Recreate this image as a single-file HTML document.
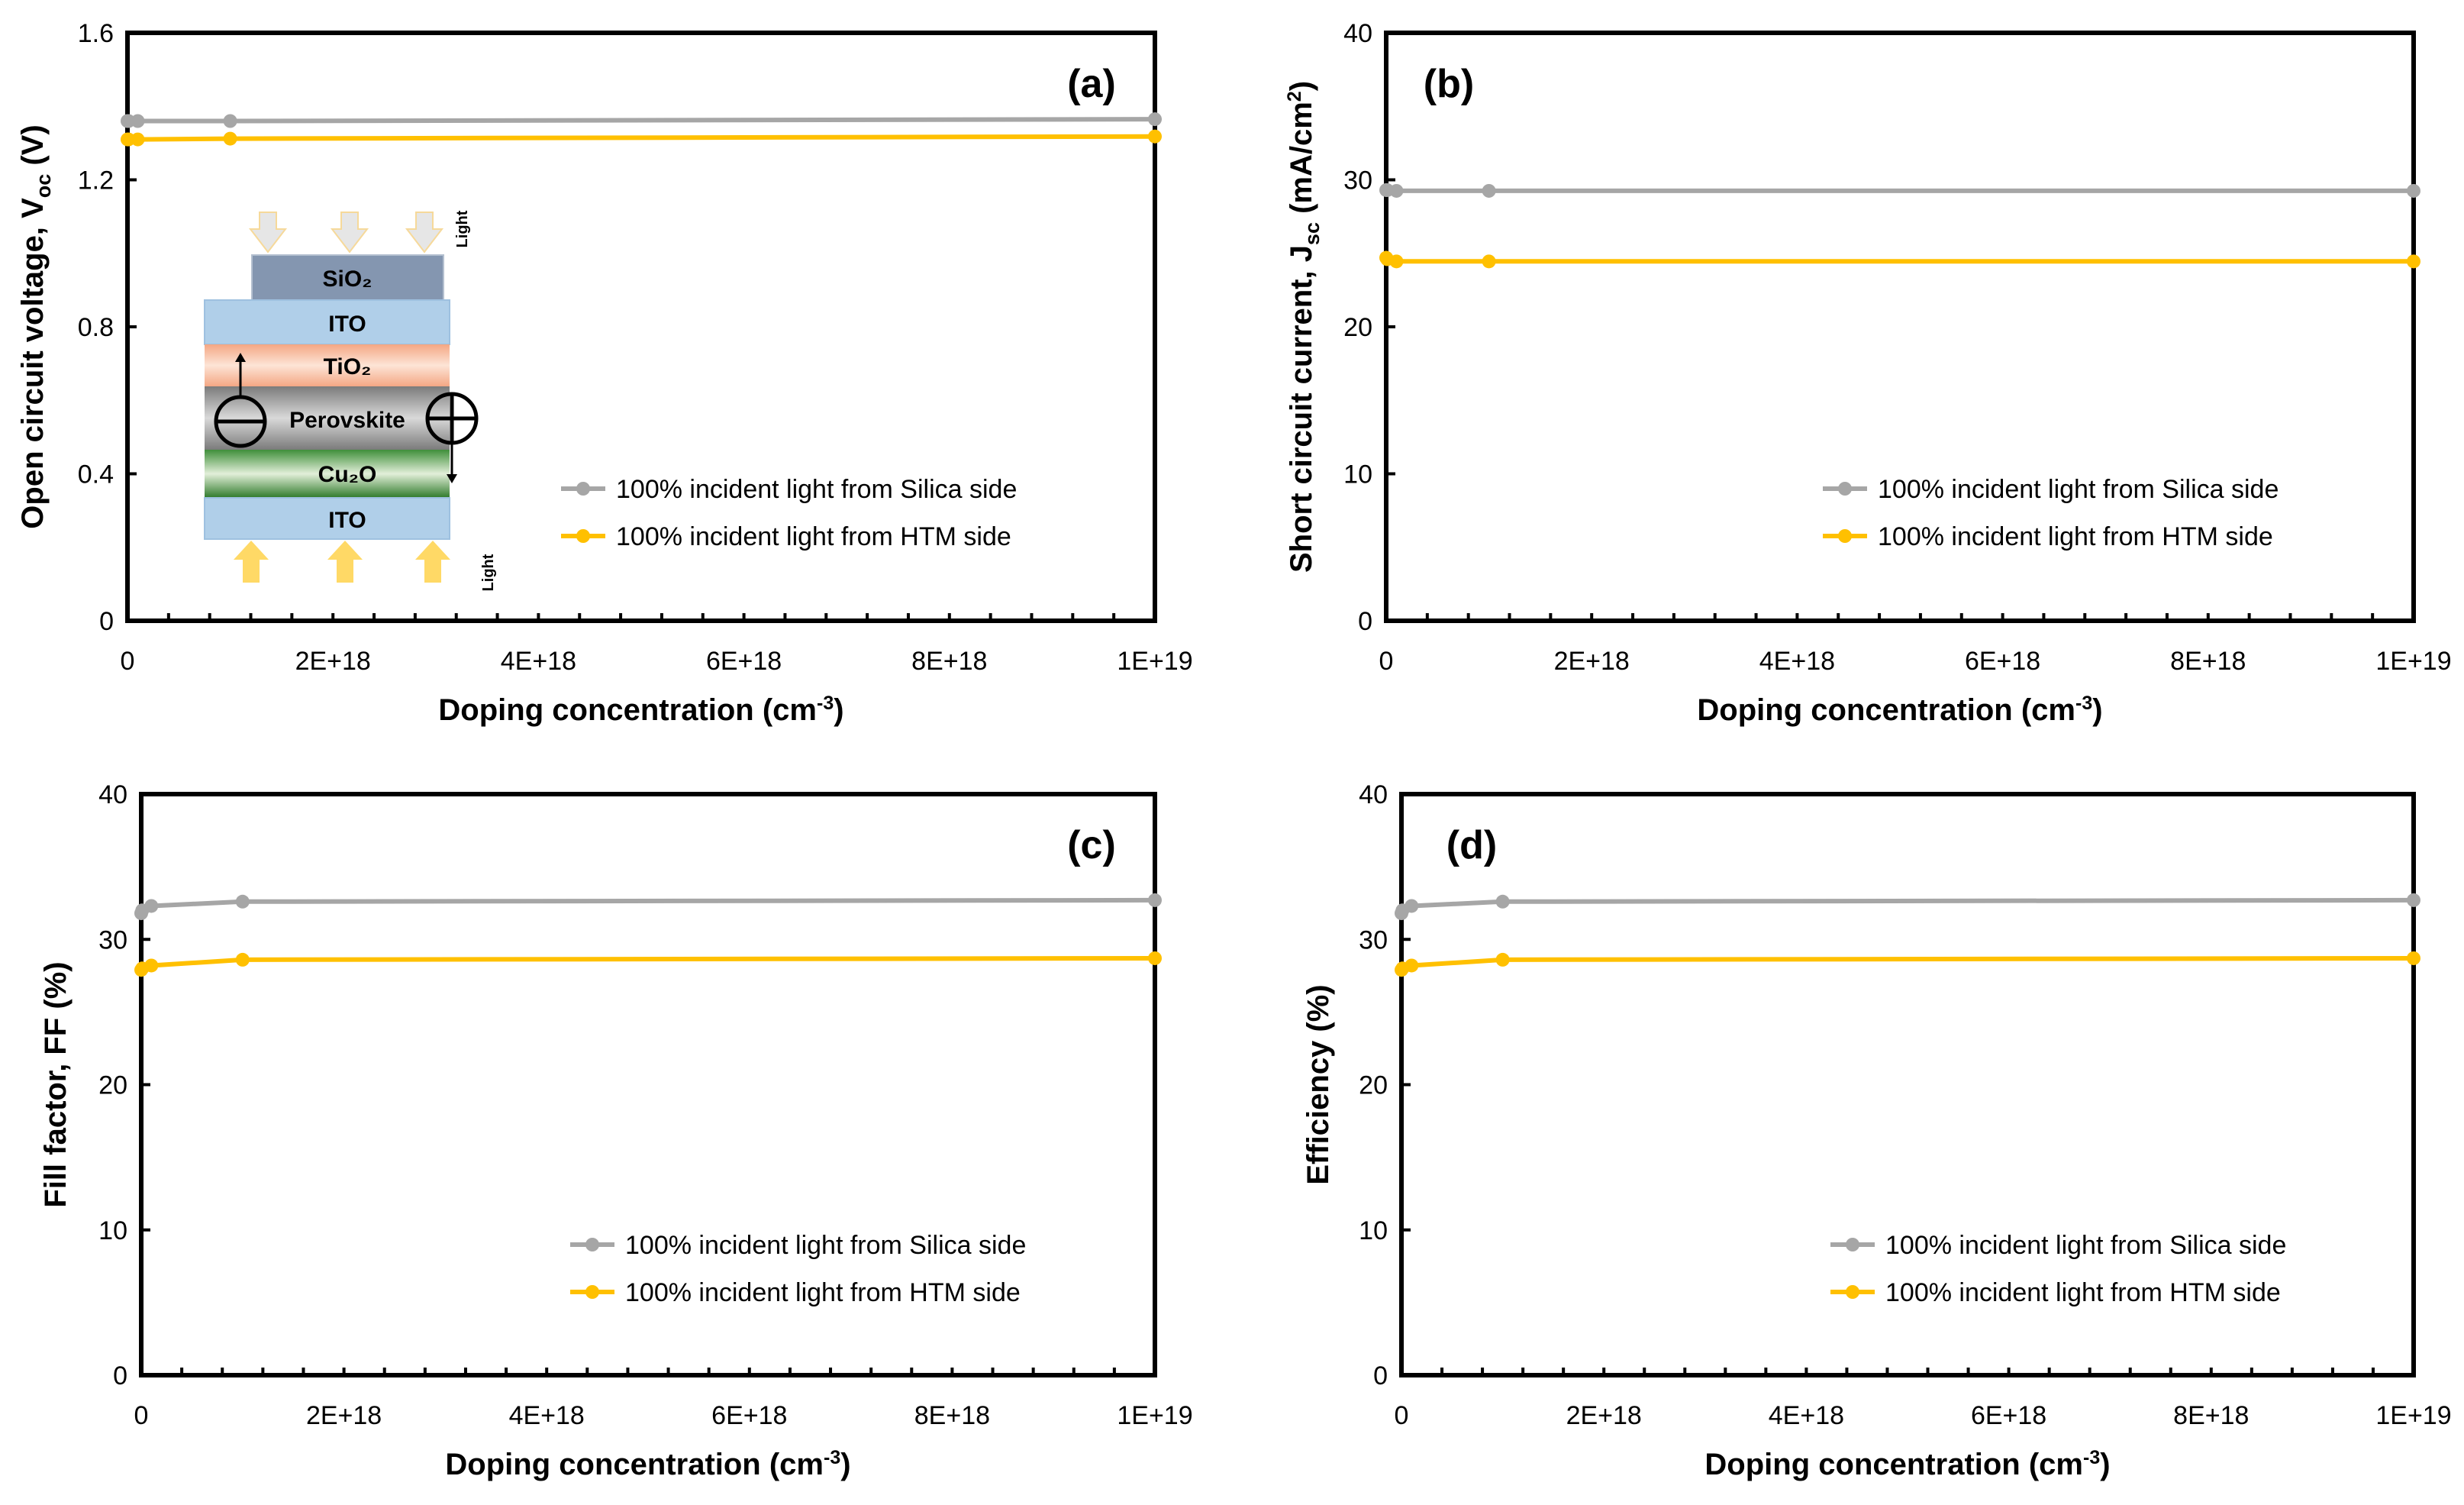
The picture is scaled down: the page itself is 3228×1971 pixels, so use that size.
<!DOCTYPE html>
<html><head><meta charset="utf-8">
<style>
html,body{margin:0;padding:0;background:#fff;}
svg{display:block;font-family:"Liberation Sans",sans-serif;}
</style></head>
<body>
<svg id="fig" width="3228" height="1971" viewBox="0 0 3228 1971" xmlns="http://www.w3.org/2000/svg">
<g id="inset">
  <defs>
    <linearGradient id="gTi" x1="0" y1="0" x2="0" y2="1"><stop offset="0" stop-color="#f4a784"/><stop offset="0.5" stop-color="#fde4d6"/><stop offset="1" stop-color="#f4a784"/></linearGradient>
    <linearGradient id="gPv" x1="0" y1="0" x2="0" y2="1"><stop offset="0" stop-color="#7b7b7b"/><stop offset="0.5" stop-color="#d9d9d9"/><stop offset="1" stop-color="#7b7b7b"/></linearGradient>
    <linearGradient id="gCu" x1="0" y1="0" x2="0" y2="1"><stop offset="0" stop-color="#3f8f3a"/><stop offset="0.5" stop-color="#e2efd9"/><stop offset="1" stop-color="#2f7a2a"/></linearGradient>
  </defs>
  <g fill="#e6e6e6" stroke="#f6d99a" stroke-width="2">
    <path d="M340,278 h22 v22 h12 l-23,30 l-23,-30 h12z"/>
    <path d="M447,278 h22 v22 h12 l-23,30 l-23,-30 h12z"/>
    <path d="M545,278 h22 v22 h12 l-23,30 l-23,-30 h12z"/>
  </g>
  <text x="612" y="300" font-size="20" font-weight="bold" transform="rotate(-90 612 300)" text-anchor="middle">Light</text>
  <rect x="330" y="334" width="251" height="59" fill="#8496b0" stroke="#b4c0d0" stroke-width="2"/>
  <text x="455" y="375" font-size="30" font-weight="bold" text-anchor="middle">SiO₂</text>
  <rect x="268" y="393" width="321" height="58" fill="#b0cfe9" stroke="#9ec1e0" stroke-width="2"/>
  <text x="455" y="434" font-size="30" font-weight="bold" text-anchor="middle">ITO</text>
  <rect x="268" y="451" width="321" height="55" fill="url(#gTi)"/>
  <text x="455" y="490" font-size="30" font-weight="bold" text-anchor="middle">TiO₂</text>
  <rect x="268" y="506" width="321" height="83" fill="url(#gPv)"/>
  <text x="455" y="560" font-size="30" font-weight="bold" text-anchor="middle">Perovskite</text>
  <rect x="268" y="589" width="321" height="63" fill="url(#gCu)"/>
  <text x="455" y="631" font-size="30" font-weight="bold" text-anchor="middle">Cu₂O</text>
  <rect x="268" y="652" width="321" height="54" fill="#b0cfe9" stroke="#9ec1e0" stroke-width="2"/>
  <text x="455" y="691" font-size="30" font-weight="bold" text-anchor="middle">ITO</text>
  <circle cx="315" cy="552" r="32" fill="none" stroke="#000" stroke-width="5"/>
  <line x1="285" y1="552" x2="345" y2="552" stroke="#000" stroke-width="5"/>
  <line x1="315" y1="520" x2="315" y2="470" stroke="#000" stroke-width="3"/>
  <path d="M315,462 l-7,12 h14z" fill="#000"/>
  <circle cx="592" cy="548" r="32" fill="none" stroke="#000" stroke-width="5"/>
  <line x1="562" y1="548" x2="622" y2="548" stroke="#000" stroke-width="5"/>
  <line x1="592" y1="518" x2="592" y2="578" stroke="#000" stroke-width="5"/>
  <line x1="592" y1="580" x2="592" y2="625" stroke="#000" stroke-width="3"/>
  <path d="M592,633 l-7,-12 h14z" fill="#000"/>
  <g fill="#ffd966">
    <path d="M318,763 h22 v-30 h12 l-23,-25 l-23,25 h12z"/>
    <path d="M441,763 h22 v-30 h12 l-23,-25 l-23,25 h12z"/>
    <path d="M556,763 h22 v-30 h12 l-23,-25 l-23,25 h12z"/>
  </g>
  <text x="646" y="750" font-size="20" font-weight="bold" transform="rotate(-90 646 750)" text-anchor="middle">Light</text>
</g>
</svg>
<script>
const xVals = [0, 1e16, 1e17, 1e18, 1e19];
const xTicks = [0, 2e18, 4e18, 6e18, 8e18, 1e19];
const xTickLabels = ["0", "2E+18", "4E+18", "6E+18", "8E+18", "1E+19"];
const vocSilica = [1.36, 1.36, 1.36, 1.36, 1.365];
const vocHTM = [1.31, 1.31, 1.31, 1.312, 1.318];
const jscSilica = [29.3, 29.3, 29.25, 29.25, 29.25];
const jscHTM = [24.7, 24.6, 24.45, 24.45, 24.45];
const ffSilica = [31.8, 32.0, 32.3, 32.6, 32.7];
const ffHTM = [27.9, 28.0, 28.2, 28.6, 28.7];
const effSilica = [31.8, 32.0, 32.3, 32.6, 32.7];
const effHTM = [27.9, 28.0, 28.2, 28.6, 28.7];
const vocTicks = [0, 0.4, 0.8, 1.2, 1.6];
const vocTickLabels = ["0", "0.4", "0.8", "1.2", "1.6"];
const pctTicks = [0, 10, 20, 30, 40];
const pctTickLabels = ["0", "10", "20", "30", "40"];
const legendLabels = ["100% incident light from Silica side", "100% incident light from HTM side"];

const NS = "http://www.w3.org/2000/svg";
const svg = document.getElementById("fig");
const GRAY = "#a6a6a6", GOLD = "#ffc000";
function mk(tag, attrs, parent) {
  const e = document.createElementNS(NS, tag);
  for (const k in attrs) e.setAttribute(k, attrs[k]);
  (parent || svg).appendChild(e);
  return e;
}
function panel(cfg) {
  const g = mk("g", {});
  
  
  const L = cfg.L, R = cfg.R, T = cfg.T, B = cfg.B;
  const xs = v => L + (v / 1e19) * (R - L);
  const ys = v => B - (v / cfg.ymax) * (B - T);
  const frame = mk("rect", {x: L, y: T, width: R - L, height: B - T, fill: "none", stroke: "#000", "stroke-width": 6}, g);
  
  
  for (let i = 0; i <= 25; i++) {
    const x = L + i * (R - L) / 25;
    mk("line", {x1: x, y1: B, x2: x, y2: B - 10, stroke: "#000", "stroke-width": 4}, g);
  }
  xTicks.forEach((v, i) => {
    const t = mk("text", {x: xs(v), y: B + 64, "font-size": 34, "text-anchor": "middle", fill: "#000"}, g);
    t.textContent = xTickLabels[i];
    
    
  });
  cfg.yTicks.forEach((v, i) => {
    mk("line", {x1: L, y1: ys(v), x2: L + 12, y2: ys(v), stroke: "#000", "stroke-width": 4}, g);
    const t = mk("text", {x: L - 18, y: ys(v) + 12, "font-size": 34, "text-anchor": "end", fill: "#000"}, g);
    t.textContent = cfg.yLabels[i];
    
    
  });
  const xt = mk("text", {x: (L + R) / 2, y: B + 130, "font-size": 40, "font-weight": "bold", "text-anchor": "middle"}, g);
  xt.innerHTML = 'Doping concentration (cm<tspan dy="-14" font-size="25">-3</tspan><tspan dy="14">)</tspan>';
  
  
  const yx = cfg.yTitleX, yy = (T + B) / 2;
  const yt = mk("text", {x: yx, y: yy, "font-size": 40, "font-weight": "bold", "text-anchor": "middle", transform: "rotate(-90 " + yx + " " + yy + ")"}, g);
  yt.innerHTML = cfg.yTitle;
  
  
  const pl = mk("text", {x: cfg.labelX, y: T + 84, "font-size": 52, "font-weight": "bold", "text-anchor": "middle"}, g);
  pl.textContent = cfg.label;
  
  
  [[cfg.s1, GRAY, "series-silica-side"], [cfg.s2, GOLD, "series-htm-side"]].forEach(([data, col, nm]) => {
    const sg = mk("g", {}, g);
    
    
    const pts = data.map((v, i) => xs(xVals[i]).toFixed(1) + "," + ys(v).toFixed(1)).join(" ");
    const line = mk("polyline", {points: pts, fill: "none", stroke: col, "stroke-width": 6}, sg);
    
    
    data.forEach((v, i) => {
      const c = mk("circle", {cx: xs(xVals[i]), cy: ys(v), r: 9, fill: col}, sg);
      
      
    });
  });
  legendLabels.forEach((lab, i) => {
    const col = i === 0 ? GRAY : GOLD;
    const y = cfg.legY + i * 62;
    const lg = mk("g", {}, g);
    
    
    mk("line", {x1: cfg.legX, y1: y, x2: cfg.legX + 58, y2: y, stroke: col, "stroke-width": 6}, lg);
    mk("circle", {cx: cfg.legX + 29, cy: y, r: 9, fill: col}, lg);
    const t = mk("text", {x: cfg.legX + 72, y: y + 12, "font-size": 34}, lg);
    t.textContent = lab;
  });
}
panel({name: "panel-a-voc", L: 167, R: 1513, T: 43, B: 813, ymax: 1.6, yTicks: vocTicks, yLabels: vocTickLabels,
  yTitle: 'Open circuit voltage, V<tspan dy="10" font-size="27">oc</tspan><tspan dy="-10"> (V)</tspan>', yTitleX: 56,
  label: "(a)", labelX: 1430, s1: vocSilica, s2: vocHTM, legX: 735, legY: 640});
panel({name: "panel-b-jsc", L: 1816, R: 3162, T: 43, B: 813, ymax: 40, yTicks: pctTicks, yLabels: pctTickLabels,
  yTitle: 'Short circuit current, J<tspan dy="10" font-size="27">sc</tspan><tspan dy="-10"> (mA/cm</tspan><tspan dy="-14" font-size="25">2</tspan><tspan dy="14">)</tspan>', yTitleX: 1718,
  label: "(b)", labelX: 1898, s1: jscSilica, s2: jscHTM, legX: 2388, legY: 640});
panel({name: "panel-c-ff", L: 185, R: 1513, T: 1040, B: 1801, ymax: 40, yTicks: pctTicks, yLabels: pctTickLabels,
  yTitle: 'Fill factor, FF (%)', yTitleX: 86,
  label: "(c)", labelX: 1430, s1: ffSilica, s2: ffHTM, legX: 747, legY: 1630});
panel({name: "panel-d-efficiency", L: 1836, R: 3162, T: 1040, B: 1801, ymax: 40, yTicks: pctTicks, yLabels: pctTickLabels,
  yTitle: 'Efficiency (%)', yTitleX: 1740,
  label: "(d)", labelX: 1928, s1: effSilica, s2: effHTM, legX: 2398, legY: 1630});
svg.appendChild(document.getElementById("inset"));
</script>
</body></html>
